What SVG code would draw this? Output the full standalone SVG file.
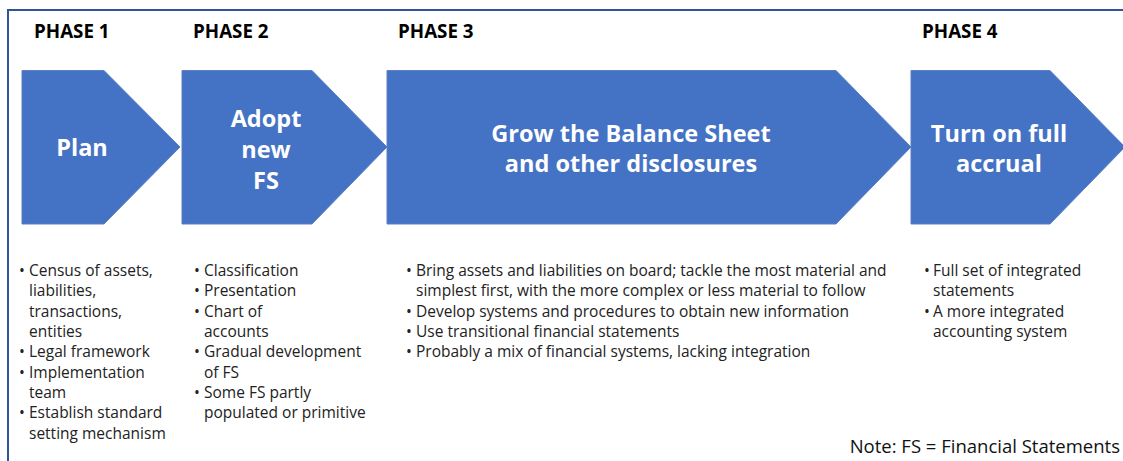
<svg xmlns="http://www.w3.org/2000/svg" width="1123" height="461" viewBox="0 0 1123 461">
<style>
.ph{font-family:"Open Sans","Noto Sans",sans-serif;font-weight:bold;font-size:18.8px;fill:#000}
.box{fill:#4472C4;stroke:#5a7fc4;stroke-width:1}
.lbl{font-family:"Open Sans","Noto Sans",sans-serif;font-weight:bold;font-size:23.5px;fill:#fff;text-anchor:middle}
.bl{font-family:"Open Sans","Noto Sans",sans-serif;font-size:15.5px;fill:#222}
.note{font-family:"Open Sans","Noto Sans",sans-serif;font-size:18.5px;fill:#111;text-anchor:end}
</style>
<rect width="1123" height="461" fill="#fff"/>
<path d="M8,461 V10 H1123" fill="none" stroke="#2F5597" stroke-width="2"/>
<g id="headers">
<text class="ph" x="34" y="38">PHASE 1</text>
<text class="ph" x="193" y="38">PHASE 2</text>
<text class="ph" x="398" y="38">PHASE 3</text>
<text class="ph" x="922" y="38">PHASE 4</text>
</g>
<g id="phase1">
<polygon class="box" points="22,70.5 104,70.5 180,147 104,224 22,224"/>
<text class="lbl" x="82" y="156">Plan</text>
</g>
<g id="phase2">
<polygon class="box" points="182,70.5 312,70.5 387,147 312,224 182,224"/>
<text class="lbl" x="266" y="127">Adopt</text>
<text class="lbl" x="266" y="158">new</text>
<text class="lbl" x="266" y="189">FS</text>
</g>
<g id="phase3">
<polygon class="box" points="387,70.5 836,70.5 911,147 836,224 387,224"/>
<text class="lbl" x="631" y="142">Grow the Balance Sheet</text>
<text class="lbl" x="631" y="172">and other disclosures</text>
</g>
<g id="phase4">
<polygon class="box" points="911,70.5 1050,70.5 1125,147 1050,224 911,224"/>
<text class="lbl" x="999" y="142">Turn on full</text>
<text class="lbl" x="999" y="172">accrual</text>
</g>
<g id="connectors"></g>
<g id="list1">
<text class="bl" x="19" y="276">•</text><text class="bl" x="29" y="276">Census of assets,</text>
<text class="bl" x="29" y="296.3">liabilities,</text>
<text class="bl" x="29" y="316.7">transactions,</text>
<text class="bl" x="29" y="337">entities</text>
<text class="bl" x="19" y="357.3">•</text><text class="bl" x="29" y="357.3">Legal framework</text>
<text class="bl" x="19" y="377.7">•</text><text class="bl" x="29" y="377.7">Implementation</text>
<text class="bl" x="29" y="398">team</text>
<text class="bl" x="19" y="418.3">•</text><text class="bl" x="29" y="418.3">Establish standard</text>
<text class="bl" x="29" y="438.7">setting mechanism</text>
</g>
<g id="list2">
<text class="bl" x="194" y="276">•</text><text class="bl" x="204" y="276">Classification</text>
<text class="bl" x="194" y="296.3">•</text><text class="bl" x="204" y="296.3">Presentation</text>
<text class="bl" x="194" y="316.7">•</text><text class="bl" x="204" y="316.7">Chart of</text>
<text class="bl" x="204" y="337">accounts</text>
<text class="bl" x="194" y="357.3">•</text><text class="bl" x="204" y="357.3">Gradual development</text>
<text class="bl" x="204" y="377.7">of FS</text>
<text class="bl" x="194" y="398">•</text><text class="bl" x="204" y="398">Some FS partly</text>
<text class="bl" x="204" y="418.3">populated or primitive</text>
</g>
<g id="list3">
<text class="bl" x="406" y="276">•</text><text class="bl" x="416" y="276">Bring assets and liabilities on board; tackle the most material and</text>
<text class="bl" x="416" y="296.3">simplest first, with the more complex or less material to follow</text>
<text class="bl" x="406" y="316.7">•</text><text class="bl" x="416" y="316.7">Develop systems and procedures to obtain new information</text>
<text class="bl" x="406" y="337">•</text><text class="bl" x="416" y="337">Use transitional financial statements</text>
<text class="bl" x="406" y="357.3">•</text><text class="bl" x="416" y="357.3">Probably a mix of financial systems, lacking integration</text>
</g>
<g id="list4">
<text class="bl" x="924" y="276">•</text><text class="bl" x="933" y="276">Full set of integrated</text>
<text class="bl" x="933" y="296.3">statements</text>
<text class="bl" x="924" y="316.7">•</text><text class="bl" x="933" y="316.7">A more integrated</text>
<text class="bl" x="933" y="337">accounting system</text>
</g>
<text class="note" x="1120" y="453">Note: FS = Financial Statements</text>
</svg>
